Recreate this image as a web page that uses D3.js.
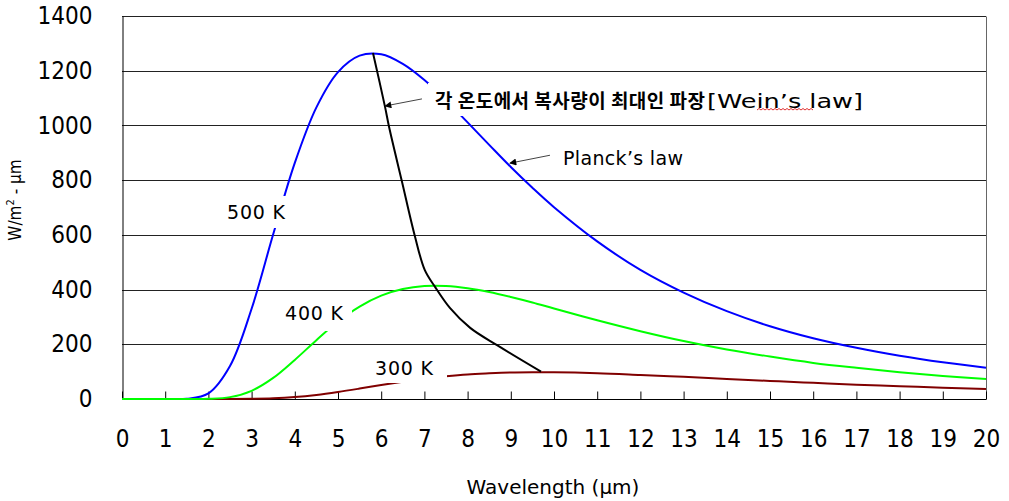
<!DOCTYPE html>
<html>
<head>
<meta charset="utf-8">
<script src="https://cdn.jsdelivr.net/npm/d3@7"></script>
<style>
  body { margin: 0; background: #fff; }
  svg { display: block; }
</style>
</head>
<body>
<svg id="chart" width="1009" height="501"></svg>
<script>
// Spectral exitance (W/m²·µm) for three blackbody temperatures
const wavelength = [0, 0.5, 1, 1.5, 2, 2.5, 3, 3.5, 4, 4.5, 5, 5.5, 6, 6.5, 7, 7.5, 8, 8.5, 9, 9.5, 10,
                    11, 12, 13, 14, 15, 16, 17, 18, 19, 20];
const exitance500 = [0, 0, 0, 0.7, 20.7, 120.7, 330, 602, 863, 1066, 1195, 1255, 1260, 1225, 1166, 1092, 1011, 929, 848, 772, 701,
                     576, 472, 389, 321, 266, 222, 187, 158, 134, 114];
const exitance400 = [0, 0, 0, 0, 0.6, 6.8, 30, 77, 143, 215, 283, 338, 378, 402, 413, 413, 405, 391, 373, 353, 331,
                     288, 248, 212, 181, 155, 132, 114, 98, 84, 73];
const exitance300 = [0, 0, 0, 0, 0, 0, 0.6, 2.5, 7.1, 15, 25.7, 38, 51, 63, 74, 83, 90, 94, 97, 98, 98,
                     94.5, 88, 81, 73.5, 66, 59, 52, 47, 41, 37];

// Locus of the emission maxima (Wien's displacement)
const wienWavelength = [5.81, 6.09, 6.18, 6.48, 6.78, 7.01, 7.25, 7.59, 8.06, 8.70, 9.70];
const wienPeak       = [1265, 1067, 996, 795, 595, 471, 409, 333, 260, 195, 100];

// Axis ticks
const xTickValues = [0, 1, 2, 3, 4, 5, 6, 7, 8, 9, 10, 11, 12, 13, 14, 15, 16, 17, 18, 19, 20];
const yTickValues = [0, 200, 400, 600, 800, 1000, 1200, 1400];

const svg = d3.select("#chart");
const plotLeft = 122, plotRight = 986, plotTop = 16, plotBottom = 399;

const x = d3.scaleLinear().domain([0, 20]).range([plotLeft, plotRight]);
const y = d3.scaleLinear().domain([0, 1400]).range([plotBottom, plotTop]);

const axisFont = "'DejaVu Sans Condensed', 'DejaVu Sans', sans-serif";
const labelFont = "'DejaVu Sans', Verdana, sans-serif";

// Keep the smoothed curves inside the plot area
svg.append("defs").append("clipPath").attr("id", "plot-clip")
  .append("rect")
  .attr("x", plotLeft).attr("y", plotTop - 2)
  .attr("width", plotRight - plotLeft + 1).attr("height", plotBottom - plotTop + 3);

// Horizontal gridlines
svg.append("g")
  .selectAll("line")
  .data(yTickValues.filter(v => v > 0))
  .join("line")
  .attr("x1", plotLeft).attr("x2", plotRight)
  .attr("y1", d => Math.round(y(d)) + 0.5).attr("y2", d => Math.round(y(d)) + 0.5)
  .attr("stroke", "#222").attr("stroke-width", 1);

// Right frame edge
svg.append("line")
  .attr("x1", plotRight + 0.5).attr("x2", plotRight + 0.5)
  .attr("y1", Math.round(y(1400)) + 0.5).attr("y2", plotBottom + 0.5)
  .attr("stroke", "#666");

// X axis: ticks point inward, labels well below
const xAxis = d3.axisBottom(x).tickValues(xTickValues).tickSize(-8).tickPadding(30).tickFormat(d3.format("d"));
const gx = svg.append("g").attr("transform", `translate(0,${plotBottom + 0.5})`).call(xAxis);
gx.select(".domain").attr("stroke", "#000").attr("d", `M${plotLeft},0H${plotRight}`);
gx.selectAll(".tick line").attr("stroke", "#000");
gx.selectAll(".tick text")
  .attr("font-family", axisFont).attr("font-size", 24).attr("fill", "#000");

// Y axis: no tick marks, labels to the left
const yAxis = d3.axisLeft(y).tickValues(yTickValues).tickSize(0).tickPadding(30).tickFormat(d3.format("d"));
const gy = svg.append("g").attr("transform", `translate(${plotLeft + 0.5},0)`).call(yAxis);
gy.select(".domain").attr("stroke", "#000");
gy.selectAll(".tick text")
  .attr("font-family", axisFont).attr("font-size", 24).attr("fill", "#000");

// Axis titles
svg.append("text")
  .attr("x", 553).attr("y", 494)
  .attr("text-anchor", "middle")
  .attr("font-family", labelFont).attr("font-size", 20)
  .text("Wavelength (\u00B5m)");

const yTitle = svg.append("text")
  .attr("transform", "translate(21,200) rotate(-90)")
  .attr("text-anchor", "middle")
  .attr("font-family", axisFont).attr("font-size", 17);
yTitle.append("tspan").text("W/m");
yTitle.append("tspan").attr("dy", -7).attr("font-size", 11).text("2");
yTitle.append("tspan").attr("dy", 7).text(" - \u00B5m");

// Curves
const lineGen = d3.line()
  .x(d => x(d[0]))
  .y(d => y(d[1]))
  .curve(d3.curveCatmullRom.alpha(0.5));

const series = [
  { values: exitance300, color: "#800000" },
  { values: exitance500, color: "#0000ff" },
  { values: exitance400, color: "#00ff00" }
];

svg.append("g")
  .attr("clip-path", "url(#plot-clip)")
  .selectAll("path")
  .data(series)
  .join("path")
  .attr("d", s => lineGen(wavelength.map((w, i) => [w, s.values[i]])))
  .attr("fill", "none")
  .attr("stroke", s => s.color)
  .attr("stroke-width", 2)
  .attr("stroke-linejoin", "round");

// Wien displacement locus
svg.append("path")
  .attr("d", lineGen(wienWavelength.map((w, i) => [w, wienPeak[i]])))
  .attr("fill", "none")
  .attr("stroke", "#000")
  .attr("stroke-width", 2);

// Temperature labels on white boxes (the boxes mask the curve beneath)
const tempLabels = [
  { text: "500 K", x: 227, base: 219, box: [220, 196, 292, 228], width: 58 },
  { text: "400 K", x: 285, base: 320, box: [279, 300, 352, 331], width: 58 },
  { text: "300 K", x: 375, base: 375, box: [368, 355, 447, 383], width: 58 }
];
const tl = svg.append("g").selectAll("g").data(tempLabels).join("g");
tl.append("rect")
  .attr("x", d => d.box[0]).attr("y", d => d.box[1])
  .attr("width", d => d.box[2] - d.box[0]).attr("height", d => d.box[3] - d.box[1])
  .attr("fill", "#fff");
tl.append("text")
  .attr("x", d => d.x).attr("y", d => d.base)
  .attr("font-family", labelFont).attr("font-size", 19)
  .attr("textLength", d => d.width)
  .text(d => d.text);

// Wien's law annotation
svg.append("rect").attr("x", 428).attr("y", 83).attr("width", 442).attr("height", 33).attr("fill", "#fff");
svg.append("text")
  .attr("x", 435).attr("y", 108)
  .attr("font-family", "'Noto Sans CJK KR', sans-serif").attr("font-weight", 700).attr("font-size", 19)
  .attr("textLength", 270)
  .text("각 온도에서 복사량이 최대인 파장");
svg.append("text")
  .attr("x", 707).attr("y", 108)
  .attr("font-family", labelFont).attr("font-size", 19)
  .attr("textLength", 156).attr("lengthAdjust", "spacingAndGlyphs")
  .text("[Wein\u2019s law]");

// Spell-check squiggle under "Wein's"
const squiggle = d3.path();
squiggle.moveTo(757, 110);
for (let px = 757, k = 0; px < 813; px += 2, k++) squiggle.lineTo(px + 2, k % 2 ? 110 : 108.5);
svg.append("path").attr("d", squiggle.toString()).attr("fill", "none").attr("stroke", "#e03030").attr("stroke-width", 1);

// Planck's law annotation
svg.append("text")
  .attr("x", 563).attr("y", 165)
  .attr("font-family", labelFont).attr("font-size", 19)
  .attr("textLength", 120)
  .text("Planck\u2019s law");

// Pointer arrows
svg.select("defs").append("marker")
  .attr("id", "head").attr("viewBox", "0 0 10 10")
  .attr("refX", 9).attr("refY", 5)
  .attr("markerWidth", 8).attr("markerHeight", 7)
  .attr("markerUnits", "userSpaceOnUse")
  .attr("orient", "auto")
  .append("path").attr("d", "M0,0L10,5L0,10z").attr("fill", "#000");

const arrows = [
  { from: [6.944, 1097], to: [6.088, 1071] },
  { from: [9.907, 891], to: [8.98, 862] }
];
svg.append("g").selectAll("line").data(arrows).join("line")
  .attr("x1", d => x(d.from[0])).attr("y1", d => y(d.from[1]))
  .attr("x2", d => x(d.to[0])).attr("y2", d => y(d.to[1]))
  .attr("stroke", "#444").attr("stroke-width", 1)
  .attr("marker-end", "url(#head)");
</script>
</body>
</html>
